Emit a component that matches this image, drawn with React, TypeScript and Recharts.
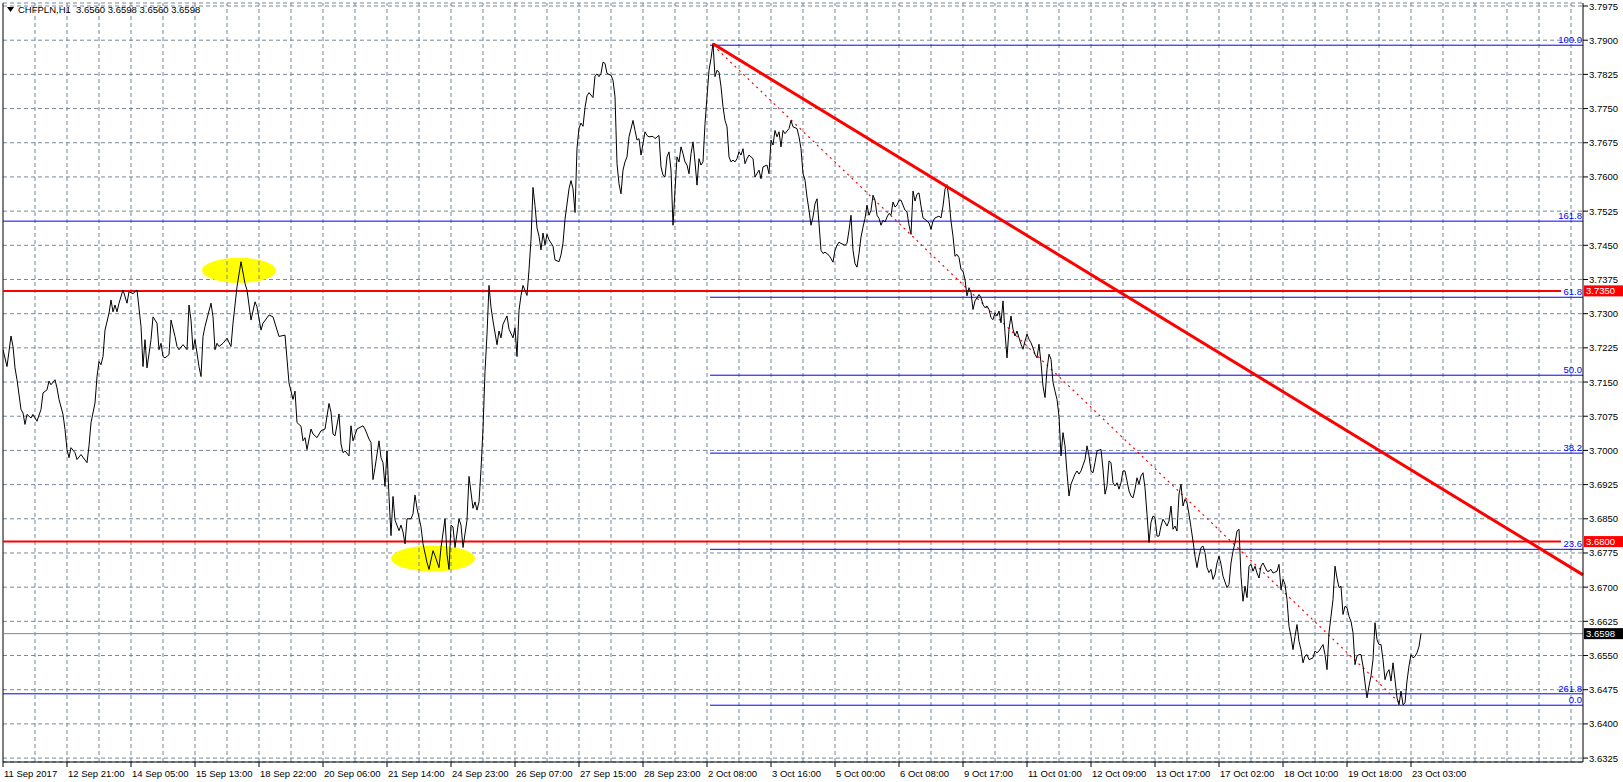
import React from 'react';
import { LineChart, Line, XAxis, YAxis, CartesianGrid, ReferenceLine, ReferenceDot } from 'recharts';

// ---- price series (hour index from 11 Sep 2017 13:00, H1 close) ----
const hours = [
  0, 2, 4, 5, 6, 7, 9, 10, 11, 12, 14, 15, 17, 19, 20, 22, 23, 24, 26, 27, 28, 30, 31, 32, 33, 34, 36, 37, 39, 42,
  43, 44, 46, 47, 48, 49, 50, 51, 53, 54, 55, 56, 57, 58, 60, 62, 63, 65, 67, 69, 70, 71, 72, 74, 75, 77, 78, 79, 80, 81,
  83, 84, 86, 87, 88, 90, 92, 93, 94, 95, 96, 98, 99, 100, 101, 104, 105, 106, 107, 108, 110, 112, 114, 115, 117, 119, 121, 122, 124, 126,
  127, 129, 130, 133, 135, 138, 141, 143, 145, 146, 147, 149,
  150, 151, 152, 154, 155, 157, 159, 161, 163, 164, 165, 166, 168, 169, 170, 171, 173, 174, 175, 177, 180, 181, 183, 184, 185, 186, 188, 189, 190, 191,
  192, 193, 194, 195, 196, 198, 199, 200, 201, 202, 204, 205, 206, 207, 209, 210, 212, 213, 215, 216, 218, 219, 221, 222, 223, 224, 225, 226, 228, 229,
  230, 232, 233, 235, 236, 237, 238, 239, 240, 241, 242, 243, 244, 245, 247, 248, 249, 250, 252, 253, 255, 256, 257, 258, 259, 260, 262, 263, 264, 265,
  266, 267, 268, 269, 270, 271, 272, 273, 275, 276, 278, 279, 280, 281, 283, 284, 285, 286, 287, 288, 289, 290, 291, 292, 293, 295, 296, 297,
  298, 299, 300, 301, 302, 304, 305, 306, 307, 308, 309, 310, 311, 312, 313, 315, 316, 317, 318, 319, 320, 321, 322, 323, 325, 326, 328, 329, 330, 331,
  332, 333, 334, 335, 336, 337, 338, 339, 340, 341, 342, 343, 344, 345, 346, 347, 348, 349, 350, 351, 352, 353, 354, 355, 356, 357, 358, 359, 360, 361,
  362, 363, 364, 365, 366, 367, 368, 369, 370, 371, 372, 373, 375, 376, 378, 379, 380, 382, 383, 384, 385, 386, 387, 388, 389, 390, 391, 393, 394, 395,
  397, 398, 399, 400, 401, 402, 403, 404, 405, 406, 407, 408, 409, 410, 411, 413, 414, 415, 416, 417, 418, 419, 421, 422, 423, 424, 425, 426, 427, 428,
  429, 430, 431, 432, 433, 434, 435, 436, 437, 438, 439, 440, 441, 442, 443, 444, 445, 446, 447, 448, 449, 451, 452, 453,
  454, 455, 456, 457, 458, 459, 460, 461, 463, 464, 465, 466, 468, 469, 470, 471, 472, 473, 474, 475, 476, 477, 478, 479, 480, 481, 482, 483, 484, 485,
  486, 487, 488, 489, 490, 491, 492, 493, 494, 495, 496, 497, 498, 499, 500, 501, 502, 503, 504, 505, 506, 507, 508, 509, 510, 511, 512, 513, 514, 515,
  516, 517, 518, 519, 520, 521, 522, 523, 524, 525, 526, 527, 528, 529, 530, 531, 532, 533, 534, 535, 536, 537, 538, 539, 541, 542, 543, 544, 545, 546,
  547, 549, 550, 551, 552, 553, 554, 555, 556, 557, 558, 559, 560, 561, 562, 563, 564, 565, 566, 567, 568, 569, 570, 571, 572, 573, 574, 575, 576, 577,
  578, 579, 580, 581, 582, 583, 584, 585, 586, 587, 588, 589, 590, 591, 592, 593, 594, 595, 596, 597, 598, 599, 600, 601, 602, 603, 604,
  605, 606, 607, 608, 609, 610, 612, 613, 614, 615, 616, 617, 618, 619, 620, 621, 622, 623, 624, 625, 626, 627, 628, 629, 630, 632, 633, 634, 635, 637,
  638, 639, 640, 641, 642, 643, 644, 645, 646, 647, 648, 649, 650, 651, 652, 653, 655, 656, 657, 658, 659, 660, 661, 662, 663, 664, 665, 666, 667, 668,
  669, 670, 671, 672, 673, 674, 675, 676, 677, 678, 679, 680, 681, 682, 683, 684, 685, 686, 687, 688, 689, 690, 691, 692, 693, 694, 695, 696, 697, 698,
  699, 700, 701, 702, 703, 704, 705, 706, 707, 708, 709,
];

const closes = [
  3.7221, 3.7184, 3.7251, 3.7228, 3.7181, 3.7155, 3.7090, 3.7082, 3.7057, 3.7079, 3.7071, 3.7079, 3.7064, 3.7090, 3.7126, 3.7133, 3.7152, 3.7144, 3.7155, 3.7137, 3.7112, 3.7079, 3.7046, 3.7002, 3.6984, 3.7006, 3.6995, 3.6980, 3.6991, 3.6973,
  3.7010, 3.7061, 3.7104, 3.7162, 3.7195, 3.7188, 3.7206, 3.7264, 3.7301, 3.7330, 3.7304, 3.7319, 3.7304, 3.7323, 3.7352, 3.7323, 3.7348, 3.7344, 3.7352, 3.7272, 3.7184, 3.7243, 3.7181, 3.7243, 3.7293, 3.7279, 3.7221, 3.7235, 3.7206, 3.7203,
  3.7210, 3.7286, 3.7250, 3.7228, 3.7221, 3.7232, 3.7221, 3.7319, 3.7286, 3.7221, 3.7243, 3.7184, 3.7162, 3.7250, 3.7272, 3.7323, 3.7293, 3.7221, 3.7235, 3.7228, 3.7235, 3.7246, 3.7228, 3.7279, 3.7359, 3.7414, 3.7366, 3.7352, 3.7286, 3.7326,
  3.7315, 3.7264, 3.7279, 3.7297, 3.7293, 3.7250, 3.7253, 3.7148, 3.7112, 3.7130, 3.7061, 3.7053,
  3.7021, 3.7028, 3.7002, 3.7047, 3.7036, 3.7028, 3.7043, 3.7047, 3.7103, 3.7084, 3.7036, 3.7032, 3.7080, 3.7014, 3.6995, 3.6999, 3.6988, 3.7054, 3.7021, 3.7047, 3.7054, 3.7047, 3.7025, 3.7017, 3.6936, 3.6962, 3.7021, 3.6984, 3.6973, 3.6921,
  3.6999, 3.6899, 3.6813, 3.6899, 3.6847, 3.6824, 3.6836, 3.6821, 3.6795, 3.6850, 3.6850, 3.6861, 3.6902, 3.6873, 3.6832, 3.6795, 3.6754, 3.6739, 3.6780, 3.6769, 3.6743, 3.6787, 3.6850, 3.6772, 3.6739, 3.6836, 3.6832, 3.6787, 3.6850, 3.6836,
  3.6787, 3.6847, 3.6943, 3.6873, 3.6887, 3.6869, 3.6887, 3.6958, 3.7047, 3.7173, 3.7255, 3.7362, 3.7314, 3.7284, 3.7232, 3.7262, 3.7247, 3.7277, 3.7295, 3.7266, 3.7247, 3.7269, 3.7206, 3.7307, 3.7340, 3.7362, 3.7340, 3.7396, 3.7462, 3.7577,
  3.7537, 3.7488, 3.7470, 3.7440, 3.7477, 3.7451, 3.7474, 3.7462, 3.7448, 3.7418, 3.7414, 3.7429, 3.7455, 3.7507, 3.7574, 3.7592, 3.7574, 3.7522, 3.7663, 3.7707, 3.7718, 3.7711, 3.7752, 3.7778, 3.7785, 3.7774, 3.7822, 3.7826,
  3.7820, 3.7827, 3.7852, 3.7849, 3.7827, 3.7823, 3.7812, 3.7776, 3.7629, 3.7585, 3.7563, 3.7615, 3.7633, 3.7644, 3.7688, 3.7724, 3.7702, 3.7681, 3.7684, 3.7648, 3.7673, 3.7699, 3.7691, 3.7688, 3.7689, 3.7684, 3.7691, 3.7622, 3.7604, 3.7600,
  3.7644, 3.7655, 3.7615, 3.7494, 3.7571, 3.7644, 3.7633, 3.7666, 3.7651, 3.7633, 3.7626, 3.7607, 3.7651, 3.7677, 3.7633, 3.7582, 3.7640, 3.7626, 3.7633, 3.7717, 3.7776, 3.7834, 3.7860, 3.7893, 3.7820, 3.7834, 3.7830, 3.7798, 3.7754, 3.7724,
  3.7710, 3.7644, 3.7633, 3.7637, 3.7633, 3.7640, 3.7655, 3.7648, 3.7662, 3.7629, 3.7640, 3.7648, 3.7640, 3.7600, 3.7615, 3.7596, 3.7622, 3.7626, 3.7607, 3.7681, 3.7670, 3.7702, 3.7688, 3.7699, 3.7666, 3.7702, 3.7695, 3.7706, 3.7724, 3.7710,
  3.7706, 3.7688, 3.7662, 3.7607, 3.7593, 3.7556, 3.7527, 3.7494, 3.7512, 3.7541, 3.7552, 3.7498, 3.7439, 3.7432, 3.7435, 3.7428, 3.7421, 3.7413, 3.7439, 3.7450, 3.7457, 3.7454, 3.7450, 3.7454, 3.7483, 3.7516, 3.7439, 3.7410, 3.7402, 3.7432,
  3.7468, 3.7490, 3.7509, 3.7538, 3.7516, 3.7527, 3.7560, 3.7549, 3.7516, 3.7509, 3.7494, 3.7505, 3.7501, 3.7512, 3.7520, 3.7516, 3.7545, 3.7534, 3.7538, 3.7549, 3.7549, 3.7527, 3.7523, 3.7494,
  3.7474, 3.7569, 3.7547, 3.7562, 3.7565, 3.7536, 3.7510, 3.7507, 3.7499, 3.7485, 3.7503, 3.7510, 3.7514, 3.7510, 3.7536, 3.7573, 3.7583, 3.7551, 3.7503, 3.7470, 3.7426, 3.7430, 3.7423, 3.7397, 3.7393, 3.7375, 3.7339, 3.7357, 3.7346, 3.7309,
  3.7328, 3.7335, 3.7342, 3.7335, 3.7320, 3.7313, 3.7317, 3.7309, 3.7291, 3.7287, 3.7302, 3.7295, 3.7306, 3.7280, 3.7328, 3.7258, 3.7203, 3.7266, 3.7295, 3.7266, 3.7251, 3.7262, 3.7247, 3.7233, 3.7222, 3.7240, 3.7255, 3.7244, 3.7236, 3.7225,
  3.7211, 3.7203, 3.7233, 3.7192, 3.7141, 3.7116, 3.7178, 3.7211, 3.7200, 3.7149, 3.7130, 3.7112, 3.7075, 3.6988, 3.7039, 3.7010, 3.6951, 3.6900, 3.6926, 3.6937, 3.6948, 3.6955, 3.6948, 3.6955, 3.6980, 3.7010, 3.6988, 3.6955, 3.6951, 3.6973,
  3.6999, 3.7002, 3.6959, 3.6904, 3.6922, 3.6977, 3.6973, 3.6929, 3.6922, 3.6929, 3.6915, 3.6929, 3.6955, 3.6955, 3.6933, 3.6911, 3.6900, 3.6896, 3.6915, 3.6940, 3.6926, 3.6944, 3.6951, 3.6918, 3.6860, 3.6798, 3.6842, 3.6856, 3.6853, 3.6812,
  3.6812, 3.6834, 3.6849, 3.6842, 3.6834, 3.6845, 3.6878, 3.6827, 3.6834, 3.6823, 3.6904, 3.6926, 3.6878, 3.6893, 3.6885, 3.6860, 3.6831, 3.6801, 3.6768, 3.6743, 3.6768, 3.6787, 3.6790, 3.6776, 3.6743, 3.6732, 3.6739,
  3.6717, 3.6728, 3.6753, 3.6768, 3.6750, 3.6724, 3.6699, 3.6706, 3.6753, 3.6779, 3.6797, 3.6823, 3.6827, 3.6724, 3.6669, 3.6702, 3.6677, 3.6746, 3.6750, 3.6735, 3.6746, 3.6731, 3.6720, 3.6746, 3.6753, 3.6735, 3.6735, 3.6739, 3.6731, 3.6735,
  3.6750, 3.6695, 3.6717, 3.6706, 3.6673, 3.6614, 3.6592, 3.6563, 3.6592, 3.6618, 3.6581, 3.6563, 3.6534, 3.6549, 3.6552, 3.6541, 3.6545, 3.6560, 3.6556, 3.6560, 3.6567, 3.6574, 3.6552, 3.6519, 3.6600, 3.6636, 3.6673, 3.6746, 3.6720, 3.6699,
  3.6702, 3.6640, 3.6658, 3.6655, 3.6636, 3.6625, 3.6600, 3.6530, 3.6549, 3.6552, 3.6552, 3.6527, 3.6490, 3.6457, 3.6483, 3.6505, 3.6541, 3.6622, 3.6585, 3.6574, 3.6574, 3.6541, 3.6497, 3.6512, 3.6519, 3.6494, 3.6534, 3.6497, 3.6457, 3.6442,
  3.6472, 3.6442, 3.6446, 3.6494, 3.6527, 3.6552, 3.6545, 3.6548, 3.6556, 3.6570, 3.6598,
];

// ---- time axis ----
const timeTickHours = [0, 32, 64, 96, 128, 160, 192, 224, 256, 288, 320, 352, 384, 416, 448, 480, 512, 544, 576, 608, 640, 672, 704];
const timeTickLabels = [
  '11 Sep 2017', '12 Sep 21:00', '14 Sep 05:00', '15 Sep 13:00', '18 Sep 22:00', '20 Sep 06:00', '21 Sep 14:00', '24 Sep 23:00',
  '26 Sep 07:00', '27 Sep 15:00', '28 Sep 23:00', '2 Oct 08:00', '3 Oct 16:00', '5 Oct 00:00', '6 Oct 08:00', '9 Oct 17:00',
  '11 Oct 01:00', '12 Oct 09:00', '13 Oct 17:00', '17 Oct 02:00', '18 Oct 10:00', '19 Oct 18:00', '23 Oct 03:00',
];
const HOUR_MAX = 790;

// ---- price axis ----
const priceTicks = [
  3.7975, 3.79, 3.7825, 3.775, 3.7675, 3.76, 3.7525, 3.745, 3.7375, 3.73, 3.7225, 3.715,
  3.7075, 3.7, 3.6925, 3.685, 3.6775, 3.67, 3.6625, 3.655, 3.6475, 3.64, 3.6325,
];
const PRICE_MIN = 3.63164;
const PRICE_MAX = 3.79816;

// ---- drawn objects ----
const levelPrices = [3.735, 3.68];
const levelEndHour = 779;
const lastPrice = 3.6598;
const fibLabels = ['100.0', '61.8', '50.0', '38.2', '23.6', '0.0'];
const fibPrices = [3.7889, 3.7336, 3.7165, 3.6994, 3.6783, 3.6441];
const fibStartHour = 353.5;
const fibExtLabels = ['161.8', '261.8'];
const fibExtPrices = [3.7503, 3.6466];
const trendHours = [355, 790];
const trendPrices = [3.7892, 3.6727];
const fibBaseHours = [355, 699.5];
const fibBasePrices = [3.7889, 3.6441];
const markHours = [118, 215];
const markPrices = [3.7395, 3.6763];
const markRx = [37, 42];
const markRy = [12.5, 13];

const data = hours.map((h, i) => ({ hour: h, close: closes[i] }));
const gridHours = Array.from({ length: 49 }, (_, i) => (i + 1) * 16);

const FONT = "'Liberation Sans', Arial, sans-serif";
const FS = 9.5;
const GRID = '#778899';

const TimeTick = (props: any) => {
  const { x, y, payload } = props;
  const idx = timeTickHours.indexOf(payload.value);
  return (
    <text x={x + 1} y={y + 8} textAnchor="start" fontSize={FS} fontFamily={FONT} fill="#000">
      {idx >= 0 ? timeTickLabels[idx] : ''}
    </text>
  );
};

const PriceTick = (props: any) => {
  const { x, y, payload } = props;
  return (
    <text x={x} y={y + 3.5} textAnchor="start" fontSize={FS} fontFamily={FONT} fill="#000">
      {Number(payload.value).toFixed(4)}
    </text>
  );
};

const fibText = (label: string) => (p: any) => (
  <text x={p.cx - 1} y={p.cy - 2} textAnchor="end" fontSize={FS} fontFamily={FONT} fill="#0000ff">
    {label}
  </text>
);

const priceBox = (label: string, bg: string) => (p: any) => (
  <g>
    <rect x={p.cx + 1} y={p.cy - 5.5} width={39} height={11} fill={bg} />
    <text x={p.cx + 3} y={p.cy + 3.5} textAnchor="start" fontSize={FS} fontFamily={FONT} fill="#fff">
      {label}
    </text>
  </g>
);

export default function App() {
  return (
    <div style={{ position: 'absolute', left: 0, top: 0, width: 1623, height: 782, background: '#fff' }}>
      <LineChart width={1623} height={782} data={data} margin={{ top: 3, right: 0, bottom: 0, left: 3 }}>
        <CartesianGrid horizontal vertical={false} stroke={GRID} strokeDasharray="4 3" />
        {gridHours.map((h) => (
          <ReferenceLine key={'g' + h} x={h} stroke={GRID} strokeDasharray="4 3" />
        ))}
        <XAxis
          type="number"
          dataKey="hour"
          domain={[0, HOUR_MAX]}
          ticks={timeTickHours}
          interval={0}
          tick={<TimeTick />}
          tickSize={5}
          height={20}
          axisLine={{ stroke: '#000' }}
          tickLine={{ stroke: '#000' }}
          allowDataOverflow
        />
        <YAxis
          orientation="right"
          type="number"
          domain={[PRICE_MIN, PRICE_MAX]}
          ticks={priceTicks}
          interval={0}
          tick={<PriceTick />}
          tickSize={5}
          tickMargin={1}
          width={40}
          axisLine={{ stroke: '#000' }}
          tickLine={{ stroke: '#000' }}
          allowDataOverflow
        />
        <ReferenceLine x={0} stroke="#000" />
        {markHours.map((h, i) => (
          <ReferenceDot
            key={'m' + i}
            x={h}
            y={markPrices[i]}
            r={1}
            zIndex={50}
            shape={(p: any) => <ellipse cx={p.cx} cy={p.cy} rx={markRx[i]} ry={markRy[i]} fill="#ffff00" />}
          />
        ))}
        <ReferenceLine y={lastPrice} stroke={GRID} />
        {fibExtPrices.map((pr, i) => (
          <ReferenceLine key={'fe' + i} segment={[{ x: 0, y: pr }, { x: HOUR_MAX, y: pr }]} stroke="#0000ff" />
        ))}
        {fibPrices.map((pr, i) => (
          <ReferenceLine key={'f' + i} segment={[{ x: fibStartHour, y: pr }, { x: HOUR_MAX, y: pr }]} stroke="#0000ff" />
        ))}
        {levelPrices.map((pr, i) => (
          <ReferenceLine key={'l' + i} segment={[{ x: 0, y: pr }, { x: levelEndHour, y: pr }]} stroke="#ff0000" strokeWidth={2} />
        ))}
        <ReferenceLine
          segment={[{ x: fibBaseHours[0], y: fibBasePrices[0] }, { x: fibBaseHours[1], y: fibBasePrices[1] }]}
          stroke="#ff0000"
          strokeDasharray="2 4"
          strokeWidth={1.2}
        />
        <Line type="linear" dataKey="close" stroke="#000" strokeWidth={1} dot={false} isAnimationActive={false} />
        <ReferenceLine
          segment={[{ x: trendHours[0], y: trendPrices[0] }, { x: trendHours[1], y: trendPrices[1] }]}
          stroke="#ff0000"
          strokeWidth={3}
        />
        {fibLabels.map((lb, i) => (
          <ReferenceDot key={'fl' + i} x={HOUR_MAX} y={fibPrices[i]} r={0} ifOverflow="visible" shape={fibText(lb)} />
        ))}
        {fibExtLabels.map((lb, i) => (
          <ReferenceDot key={'fel' + i} x={HOUR_MAX} y={fibExtPrices[i]} r={0} ifOverflow="visible" shape={fibText(lb)} />
        ))}
        {levelPrices.map((pr, i) => (
          <ReferenceDot key={'lb' + i} x={HOUR_MAX} y={pr} r={0} ifOverflow="visible" shape={priceBox(pr.toFixed(4), '#ff0000')} />
        ))}
        <ReferenceDot x={HOUR_MAX} y={lastPrice} r={0} ifOverflow="visible" shape={priceBox(lastPrice.toFixed(4), '#000')} />
      </LineChart>
      <div
        style={{
          position: 'absolute',
          left: 7,
          top: 4,
          fontFamily: FONT,
          fontSize: FS,
          lineHeight: '11px',
          whiteSpace: 'pre',
          color: '#000',
          display: 'flex',
          alignItems: 'center',
        }}
      >
        <svg width={7} height={5} style={{ marginRight: 4 }}>
          <polygon points="0,0 7,0 3.5,5" fill="#000" />
        </svg>
        <span>{'CHFPLN,H1  3.6560 3.6598 3.6560 3.6598'}</span>
      </div>
    </div>
  );
}
